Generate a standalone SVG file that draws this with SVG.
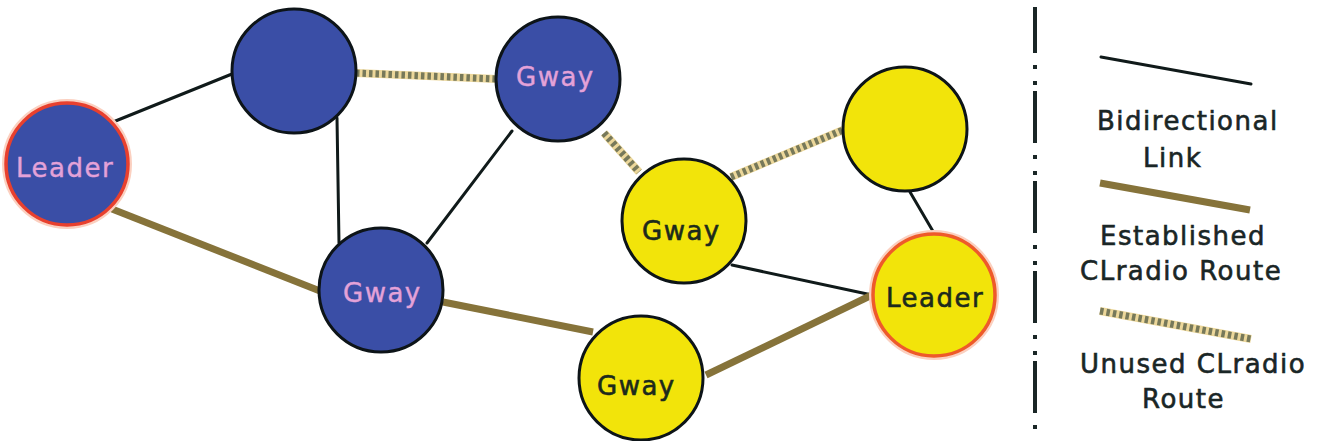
<svg xmlns="http://www.w3.org/2000/svg" width="1321" height="441" viewBox="0 0 1321 441">
<style>
.link{stroke:#101a1a;stroke-width:3;fill:none;stroke-linecap:round}
.est{stroke:#86733a;stroke-width:7;fill:none}
.unA{stroke:#ecd79a;stroke-width:8;fill:none}
.unB{stroke:#77795a;stroke-width:7;fill:none;stroke-dasharray:3.5 3}
.blue{fill:#3a4ea6;stroke:#0d1418;stroke-width:3}
.yel{fill:#f2e40a;stroke:#0d1418;stroke-width:3}
.ldrB{fill:#3a4ea6;stroke:#e8402e;stroke-width:3.5}
.ldrY{fill:#f2e40a;stroke:#ee5a2a;stroke-width:3.5}
.glow{fill:none;stroke:#fbd0c0;stroke-width:6}
.tb{font-family:"DejaVu Sans",sans-serif;font-size:26px;letter-spacing:1.5px;fill:#e4a2d8;stroke:#e4a2d8;stroke-width:0.4}
.ty{font-family:"DejaVu Sans",sans-serif;font-size:26px;letter-spacing:1.5px;fill:#1c2a1c;stroke:#1c2a1c;stroke-width:0.6}
.lg{font-family:"DejaVu Sans",sans-serif;font-size:26px;letter-spacing:1.5px;fill:#1a2626;stroke:#1a2626;stroke-width:0.6}
</style>
<rect width="1321" height="441" fill="#ffffff"/>
<g id="connectors">
<line class="link" x1="113" y1="122" x2="232" y2="74"/>
<line class="link" x1="337" y1="118" x2="339" y2="243"/>
<line class="link" x1="427" y1="243" x2="512" y2="131"/>
<line class="link" x1="910" y1="192" x2="934" y2="233"/>
<line class="link" x1="732" y1="265" x2="872" y2="295"/>
<line class="est" x1="112" y1="209" x2="320" y2="291"/>
<line class="est" x1="443" y1="302" x2="593" y2="332"/>
<line class="est" x1="706" y1="375" x2="872" y2="295"/>
<line class="unA" x1="356" y1="73" x2="497" y2="79"/>
<line class="unB" x1="356" y1="73" x2="497" y2="79"/>
<line class="unA" x1="604" y1="133" x2="639" y2="172"/>
<line class="unB" x1="604" y1="133" x2="639" y2="172"/>
<line class="unA" x1="731" y1="177" x2="843" y2="130"/>
<line class="unB" x1="731" y1="177" x2="843" y2="130"/>
</g>
<g id="node-leader-blue">
<circle class="glow" cx="67" cy="164" r="62"/>
<circle class="ldrB" cx="67" cy="164" r="61"/>
<text class="tb" x="16" y="177">Leader</text>
</g>
<g id="node-blue-top">
<circle class="blue" cx="294" cy="71" r="62"/>
</g>
<g id="node-gway-blue-bottom">
<circle class="blue" cx="381" cy="290" r="62"/>
<text class="tb" x="343" y="302">Gway</text>
</g>
<g id="node-gway-blue-top">
<circle class="blue" cx="558" cy="79" r="62"/>
<text class="tb" x="516" y="86">Gway</text>
</g>
<g id="node-gway-yellow-mid">
<circle class="yel" cx="684" cy="221" r="62"/>
<text class="ty" x="642" y="240">Gway</text>
</g>
<g id="node-yellow-top">
<circle class="yel" cx="905" cy="129" r="62"/>
</g>
<g id="node-leader-yellow">
<circle class="glow" cx="934" cy="295" r="62"/>
<circle class="ldrY" cx="934" cy="295" r="61"/>
<text class="ty" x="886" y="307">Leader</text>
</g>
<g id="node-gway-yellow-bottom">
<circle class="yel" cx="641" cy="378" r="62"/>
<text class="ty" x="597" y="395">Gway</text>
</g>
<g id="legend">
<line x1="1035" y1="7" x2="1035" y2="432" stroke="#1a2626" stroke-width="4" stroke-dasharray="52 12 4 12 4 6" stroke-dashoffset="6"/>
<line class="link" x1="1101" y1="57" x2="1251" y2="84"/>
<line class="est" x1="1100" y1="183" x2="1250" y2="210"/>
<line class="unA" x1="1100" y1="311" x2="1251" y2="339"/>
<line class="unB" x1="1100" y1="311" x2="1251" y2="339"/>
<text class="lg" x="1097" y="130">Bidirectional</text>
<text class="lg" x="1143" y="167">Link</text>
<text class="lg" x="1100" y="245">Established</text>
<text class="lg" x="1080" y="280">CLradio Route</text>
<text class="lg" x="1080" y="373">Unused CLradio</text>
<text class="lg" x="1142" y="408">Route</text>
</g>
</svg>
